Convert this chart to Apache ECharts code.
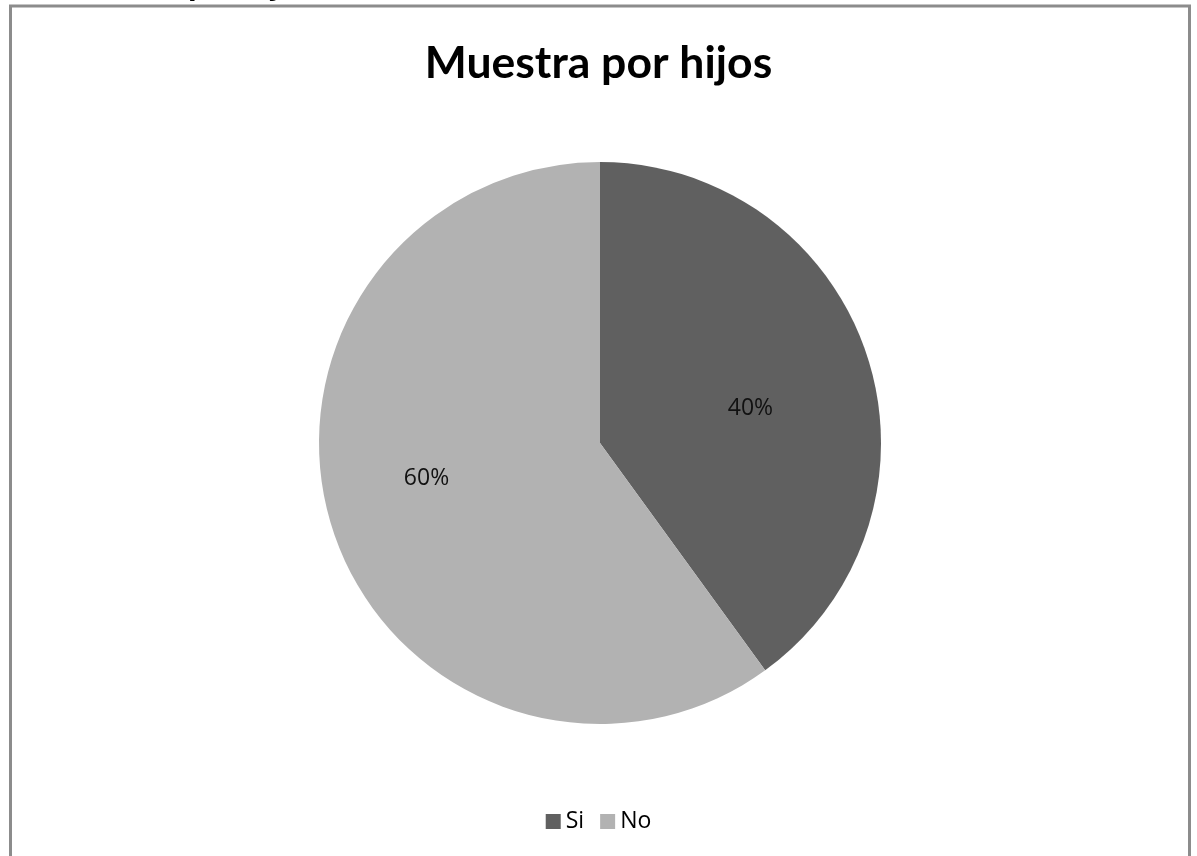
<!DOCTYPE html>
<html>
<head>
<meta charset="utf-8">
<style>
html,body{margin:0;padding:0;background:#fff;}
#chart{width:1197px;height:856px;}
</style>
<script src="https://cdn.jsdelivr.net/npm/echarts@6/dist/echarts.min.js"></script>
</head>
<body>
<div id="chart"></div>
<script>
const titleText = 'Muestra por hijos';
const categories = ['Si', 'No'];
const values = [40, 60];
const colors = ['#606060', '#b2b2b2'];

const chart = echarts.init(document.getElementById('chart'));
const data = categories.map((c, i) => ({ name: c, value: values[i], itemStyle: { color: colors[i] } }));

chart.setOption({
  animation: false,
  backgroundColor: '#ffffff',
  title: {
    text: titleText,
    left: 'center',
    top: 36,
    textStyle: { fontFamily: 'Lato', fontWeight: 'bold', fontSize: 44.5, color: '#000' }
  },
  legend: {
    data: categories,
    bottom: 18,
    left: 'center',
    icon: 'rect',
    itemWidth: 15,
    itemHeight: 15,
    itemGap: 16,
    textStyle: { fontFamily: 'Open Sans', fontSize: 23, color: '#000' }
  },
  graphic: [
    {
      type: 'rect',
      shape: { x: 10.5, y: 6, width: 1179, height: 870 },
      style: { fill: 'none', stroke: '#8c8c8c', lineWidth: 3 },
      silent: true
    },
    {
      type: 'text',
      left: 65,
      top: -30,
      style: { text: 'Muestra por hijos', font: 'italic bold 30px "Open Sans"', fill: '#000' },
      silent: true,
      z: -1
    }
  ],
  series: [{
    type: 'pie',
    center: [600, 443],
    radius: 281,
    startAngle: 90,
    clockwise: true,
    data: data,
    label: {
      show: true,
      position: 'inside',
      formatter: '{d}%',
      fontFamily: 'Open Sans',
      fontSize: 23,
      color: '#111'
    },
    labelLine: { show: false },
    labelLayout: function (p) {
      return p.dataIndex === 0 ? { dx: 14, dy: 10 } : { dx: -37, dy: -9 };
    },
    itemStyle: { borderWidth: 0 },
    emphasis: { disabled: true }
  }]
});
</script>
</body>
</html>
